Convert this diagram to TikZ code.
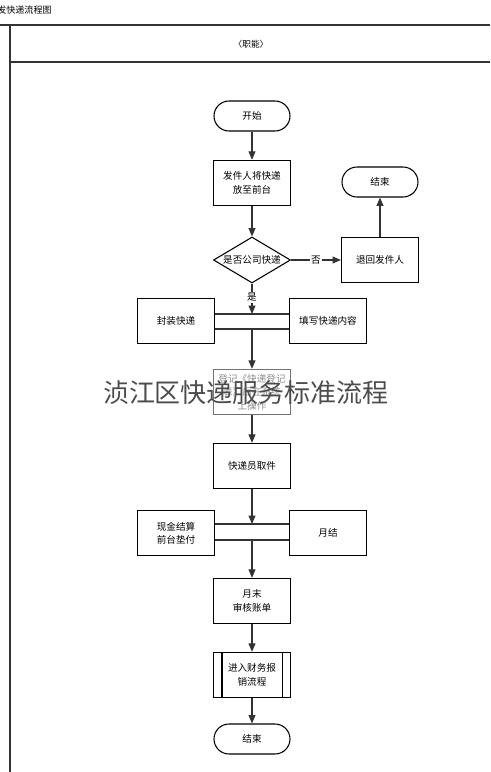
\documentclass[tikz,border=0pt]{standalone}
\usepackage{fontspec}
\setmainfont{Noto Sans CJK SC}
\usepackage{tikz}
\usetikzlibrary{positioning}
\usetikzlibrary{arrows.meta}
\usetikzlibrary{shapes.geometric}
\definecolor{linegray}{HTML}{333333}

\begin{document}
\begin{tikzpicture}[x=0.75pt,y=-0.75pt]
        \tikzset{edge/.style = {draw=linegray, line width=0.8pt, -{Triangle[length=2.2mm,width=1.8mm]}}}
        \tikzset{bar/.style = {draw=linegray, line width=0.8pt}}
        \tikzset{box/.style = {draw=black, line width=0.8pt, rectangle, minimum width=57.75pt, minimum height=34pt, inner sep=1pt, align=center, font=\fontsize{7.2}{10}\selectfont}}
        \tikzset{terminal/.style = {draw=black, line width=0.8pt, rectangle, rounded corners=11.25pt, minimum width=57pt, minimum height=22.5pt, font=\fontsize{7.2}{10}\selectfont}}
        \tikzset{decision/.style = {draw=black, line width=0.8pt, diamond, aspect=1.67, minimum width=57.75pt, minimum height=34.5pt, inner sep=0pt}}
        \tikzset{label/.style = {font=\fontsize{7.2}{10}\selectfont, inner sep=1pt}}

        \useasboundingbox (0,0) rectangle (490,772);

        % frame
        \node[anchor=west, inner sep=0pt, font=\fontsize{6.8}{8}\selectfont] (title) at (-3,10) {发快递流程图};
        \draw[linegray, line width=1.5pt] (0,25) -- (490,25);
        \draw[linegray, line width=1.5pt] (10,25) -- (10,772);
        \draw[linegray, line width=0.9pt] (10,62) -- (490,62);
        \node[font=\fontsize{6.5}{8}\selectfont] (role) at (251,44) {〈职能〉};

        % main column
        \node[terminal] (start) at (252,116) {开始};
        \node[box] (drop) at (252,183) {发件人将快递\\放至前台};
        \node[decision] (check) at (252,260) {};
        \node[label] (checktext) at (check) {是否公司快递};
        \node[box] (back) at (380,260) {退回发件人};
        \node[terminal] (end1) at (380,182) {结束};

        % first bar
        \node[box] (pack) at (176,321) {封装快递};
        \node[box] (fill) at (328,321) {填写快递内容};
        \coordinate (bar1t) at (252,314);
        \coordinate (bar1b) at (252,329);
        \node[box, draw=black!55, text=black!45] (reg) at (252,392) {登记《快递登记\\表》后在系统\\上操作};
        \node[box] (pick) at (252,466) {快递员取件};

        % second bar
        \node[box] (cash) at (176,533) {现金结算\\前台垫付};
        \node[box] (month) at (328,533) {月结};
        \coordinate (bar2t) at (252,524);
        \coordinate (bar2b) at (252,540);
        \node[box] (audit) at (252,601) {月末\\审核账单};
        \node[box] (finance) at (252,675) {进入财务报\\销流程};
        \draw[line width=0.8pt] ([xshift=6.75pt]finance.north west) -- ([xshift=6.75pt]finance.south west);
        \draw[line width=0.8pt] ([xshift=-6.75pt]finance.north east) -- ([xshift=-6.75pt]finance.south east);
        \node[terminal] (end2) at (252,739) {结束};

        % arrows
        \draw[edge] (start) -- (drop);
        \draw[edge] (drop) -- (check);
        \draw[edge] (check.east) -- node[label, fill=white] (no) {否} (back.west);
        \draw[edge] (back) -- (end1);
        \draw[edge] (check.south) -- node[label, pos=0.45, fill=white] (yes) {是} (bar1t);
        \draw[bar] (pack.east |- bar1t) -- (fill.west |- bar1t);
        \draw[bar] (pack.east |- bar1b) -- (fill.west |- bar1b);
        \draw[edge] (bar1b) -- (reg);
        \draw[edge] (reg) -- (pick);
        \draw[edge] (pick) -- (bar2t);
        \draw[bar] (cash.east |- bar2t) -- (month.west |- bar2t);
        \draw[bar] (cash.east |- bar2b) -- (month.west |- bar2b);
        \draw[edge] (bar2b) -- (audit);
        \draw[edge] (audit) -- (finance);
        \draw[edge] (finance) -- (end2);

        % watermark
        \node[text=black!70, font=\fontsize{19.5}{22}\selectfont] (mark) at (246,393) {浈江区快递服务标准流程};
\end{tikzpicture}
\end{document}
